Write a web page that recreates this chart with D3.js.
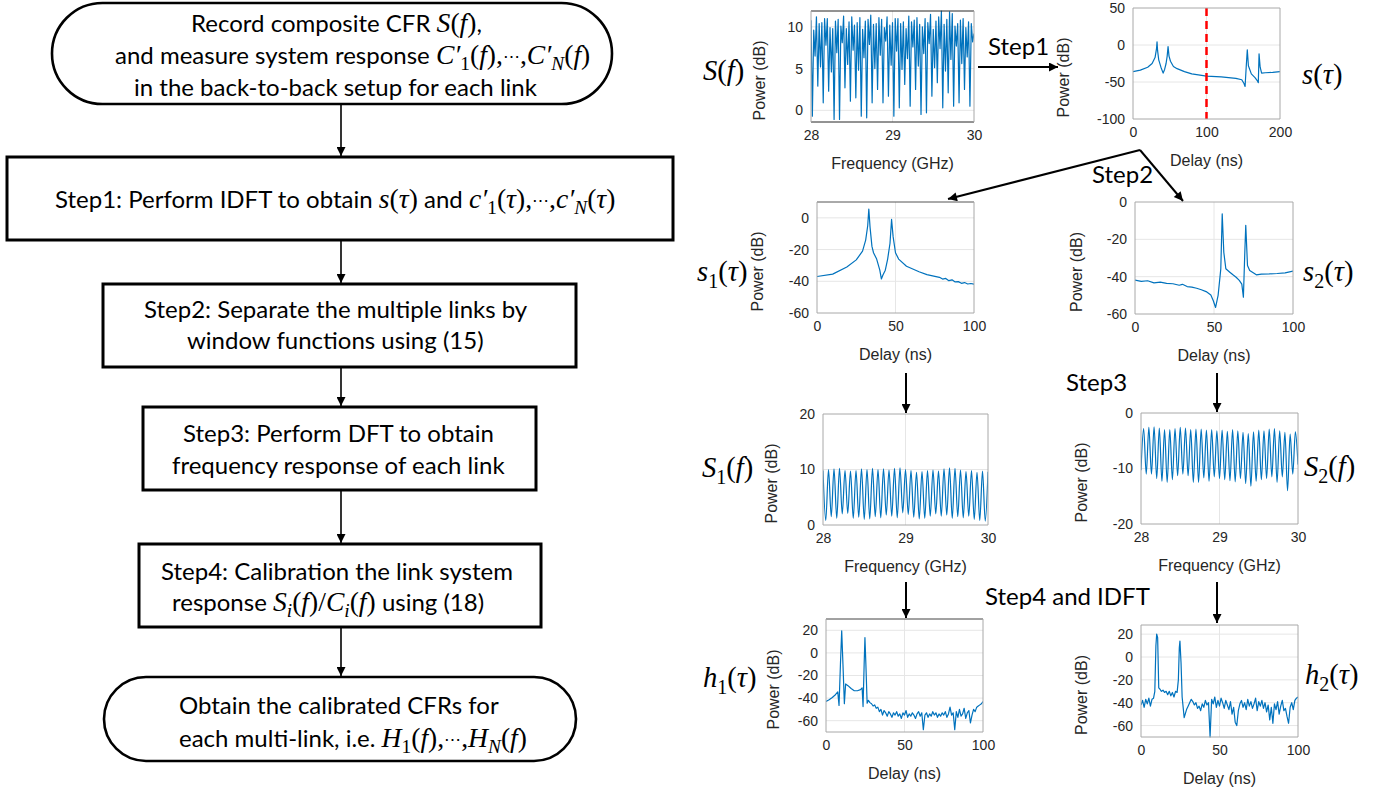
<!DOCTYPE html>
<html>
<head>
<meta charset="utf-8">
<script src="https://cdn.jsdelivr.net/npm/d3@7"></script>
<style>
  body { margin: 0; background: #fff; }
  svg { display: block; }
</style>
</head>
<body>
<div id="chart"></div>
<script>
// ---------- data ----------
// S(f): composite CFR, 30 ripple cycles 28-30 GHz, 4 samples per cycle
const sfPeakA  = [10.8,11.2,10.5,11.0,9.8,10.9,11.3,10.6,10.2,11.1,10.7,11.4,10.4,10.9,11.2,10.5,11.0,10.6,11.3,10.8,10.3,11.0,11.5,10.7,11.9,10.9,11.6,10.4,11.0,10.6];
const sfTrough = [-0.7,2.9,0.9,2.3,-1.1,-1.1,2.7,1.1,1.5,-0.7,-0.9,0.9,2.5,0.9,1.7,-0.7,0.3,3.1,0.5,2.5,-0.5,-0.3,1.7,3.3,0.3,2.1,0.5,0.9,2.5,0.5];
const sfPeakB  = [9.6,10.4,11.0,9.9,10.7,10.1,9.8,11.2,10.5,9.7,10.9,10.3,11.1,9.9,10.2,11.0,10.4,9.8,10.6,11.1,10.0,10.5,9.7,11.2,10.3,11.8,10.1,10.8,9.9,10.4];
const sfMid    = [6.5,5.2,7.8,4.6,6.9,8.1,5.5,7.2,4.8,6.3,7.9,5.0,6.6,8.3,5.4,7.1,4.9,6.2,7.6,5.3,6.8,8.0,5.1,7.4,4.7,6.1,7.7,5.6,6.4,8.2];
const sfLast   = 9.2;

// s(tau): [delay ns, power dB]
const sTau = [[0,-36],[10,-34],[20,-30],[26,-25],[30,-17],[32,-5],[32.7,4.3],[33.5,-8],[35,-20],[38,-30],[41,-38],
  [43,-33],[45,-25],[46.5,-15],[47.7,-2],[49,-15],[51,-22],[55,-29],[60,-32],[70,-36],[80,-39],[100,-42],
  [120,-43],[140,-45],[148,-47],[151,-52],[152.5,-56],[154,-30],[155.5,-6.5],[157,-28],[161,-39],[166,-44],
  [169,-48],[170.5,-51],[171.5,-12],[173,-30],[175,-38],[180,-37.5],[190,-37],[200,-36]];

// s1(tau), s2(tau)
const s1Tau = [[0,-37],[10,-35.5],[19,-31],[25,-26.5],[29,-21],[31,-14],[32.3,-5],[33,5.5],[33.8,-6],[35,-18],
  [36,-22],[38,-26],[40,-33],[41,-38.5],[42,-36],[43.5,-33],[45,-26],[46.5,-16],[47.5,-1],[48.5,-12],[50,-22],
  [52,-26],[57,-30.5],[65,-34],[70,-35.8],[78,-37.5],[80,-38.6],[82,-38.2],[84,-39.6],[86,-39.1],[88,-40.4],
  [90,-40.2],[92,-41.3],[94,-40.8],[96,-41.7],[98,-41.4],[100,-41.8]];
const s2Tau = [[0,-41.8],[4,-42.5],[8,-42.2],[12,-43.3],[16,-42.9],[20,-43.6],[24,-43.8],[28,-44.6],[30,-44.1],
  [33,-45.3],[36,-45.6],[39,-46.2],[42,-47],[45,-48],[48,-49.8],[49.5,-52.8],[51,-56.5],[52.6,-50],[54.3,-35.8],
  [55.2,-6.3],[56.2,-26.9],[57.5,-35.8],[60,-37.6],[62,-39],[64,-40.3],[66,-42],[67.6,-44],[68.6,-51],[69.5,-27],
  [70.1,-12.5],[71.2,-34],[72.6,-36.7],[76.8,-39],[80,-38.6],[85,-38.5],[90,-38.3],[95,-38],[100,-37]];

// S1(f): 30 ripple cycles, alternating peak / trough
const s1fPeak   = [9.8,10.0,10.1,10.2,9.8,9.7,9.8,10.1,10.0,10.2,10.0,10.1,9.9,10.2,10.3,10.0,9.8,9.5,9.6,9.8,9.9,9.7,10.1,10.3,10.2,9.9,9.6,9.8,9.5,9.7,9.6];
const s1fTrough = [0.8,1.5,1.2,2.0,2.1,1.2,1.4,1.0,1.1,1.5,1.3,1.8,1.6,1.3,2.2,1.9,1.4,1.1,1.2,1.6,2.0,1.6,1.8,1.2,1.5,1.3,1.6,1.0,0.8,0.7];
// S2(f): starts and ends on a trough
const s2fTrough = [-10.3,-11.0,-11.0,-11.8,-12.3,-12.5,-12.0,-11.3,-11.0,-11.3,-12.5,-12.5,-11.7,-12.3,-11.5,-11.8,-12.0,-12.2,-12.4,-11.8,-12.7,-13.2,-12.3,-12.0,-11.8,-11.5,-12.5,-11.5,-14.0,-11.0,-9.3];
const s2fPeak   = [-2.8,-2.6,-2.5,-2.7,-3.0,-3.0,-2.8,-2.6,-2.7,-3.0,-2.9,-2.9,-3.1,-3.0,-3.2,-3.1,-3.3,-3.0,-3.2,-3.5,-3.7,-3.4,-3.1,-3.2,-2.9,-2.8,-3.2,-3.5,-3.8,-3.4];

// h1(tau), h2(tau): main taps, then the noise floor sampled every 1 ns
const h1Head = [[0,-43],[2,-41.5],[4,-39.5],[6,-37],[7.5,-34.5],[8.3,-46.5],[9.2,-10],[10,19.5],[10.8,-10],[11.7,-45],
  [12.5,-27.5],[14,-29],[16,-31.5],[18,-33.5],[20,-33.5],[22,-32.5],[23,-31],[23.6,-47.5],[24.3,-10],[24.8,13.5],
  [25.4,-10],[26.2,-44.5],[27,-42]];
const h1TailStart = 28;
const h1Tail = [-44,-45,-47,-46,-49,-48,-52,-50,-55,-51,-53,-56,-52,-54,-57,-53,-55,-52,-56,-54,-58,-53,-55,-51,-57,
  -54,-56,-53,-55,-58,-54,-52,-56,-53,-68,-55,-53,-57,-54,-56,-52,-55,-53,-57,-54,-56,-53,-55,-52,-57,-54,-48,-55,
  -53,-68,-52,-57,-50,-56,-54,-49,-58,-53,-51,-62,-55,-50,-52,-48,-47,-46,-45,-43];
const h2Head = [[0,-42],[1,-38],[2,-44],[3,-37],[4,-41],[5,-36],[6,-43],[7,-37],[8,-36],[8.8,-30],[9.5,10],[10,20],
  [10.6,17],[11.3,-27],[12,-28],[13,-30],[14,-29],[15,-31],[16,-30],[17,-33],[18,-30],[19,-34],[20,-31],[21,-35],
  [22,-30],[23,-31],[23.8,-20],[24.4,8],[24.8,14],[25.5,-5],[26.2,-35],[27.5,-53],[29,-46],[30,-43],[31,-40],[32,-37]];
const h2TailStart = 33;
const h2Tail = [-39,-42,-40,-45,-43,-47,-41,-44,-38,-42,-40,-70,-37,-41,-35,-44,-38,-43,-36,-40,-45,-38,-42,-46,-39,
  -50,-44,-57,-60,-47,-41,-38,-44,-40,-46,-37,-43,-39,-45,-41,-36,-47,-39,-43,-38,-45,-40,-48,-42,-55,-44,-58,-41,
  -46,-39,-50,-43,-38,-47,-45,-52,-58,-44,-40,-46,-38,-36,-35];

const freqTicks = [28, 29, 30];

// ---------- setup ----------
const W = 1390, H = 793;
const SANS = 'Lato, "Open Sans", sans-serif';
const MATH = '"Liberation Serif", "DejaVu Serif", serif';
const AXF = '"Liberation Sans", Arial, sans-serif';
const BLUE = '#0072BD';
const AXC = '#262626';

const svg = d3.select('#chart').append('svg')
  .attr('width', W).attr('height', H)
  .attr('viewBox', `0 0 ${W} ${H}`);
const defs = svg.append('defs');
defs.append('marker').attr('id', 'arr')
  .attr('viewBox', '0 0 10 10').attr('refX', 10).attr('refY', 5)
  .attr('markerUnits', 'userSpaceOnUse').attr('markerWidth', 10).attr('markerHeight', 9)
  .attr('orient', 'auto')
  .append('path').attr('d', 'M0,0 L10,5 L0,10 z').attr('fill', '#000');
defs.append('marker').attr('id', 'arrBig')
  .attr('viewBox', '0 0 10 10').attr('refX', 10).attr('refY', 5)
  .attr('markerUnits', 'userSpaceOnUse').attr('markerWidth', 12).attr('markerHeight', 9)
  .attr('orient', 'auto')
  .append('path').attr('d', 'M0,0 L10,5 L0,10 z').attr('fill', '#000');

// text with inline math: parts = [[string, kind]]
// kinds: r = sans text, i = math italic, u = math upright, d = small cdots, sub / subi = subscript
function rich(x, y, size, parts, mathScale) {
  const ms = mathScale || 1.15;
  const t = svg.append('text').attr('x', x).attr('y', y)
    .attr('font-size', size).attr('fill', '#000');
  let shift = 0;
  parts.forEach(([s, k]) => {
    const sp = t.append('tspan').text(s);
    let fam = SANS, fs = size, it = false, target = 0;
    if (k === 'i') { fam = MATH; it = true; fs = size * ms; }
    else if (k === 'u') { fam = MATH; fs = size * ms; }
    else if (k === 'd') { fam = MATH; fs = size * 0.72; target = -size * 0.08; }
    else if (k === 'sub') { fam = MATH; fs = size * ms * 0.7; target = size * 0.25; }
    else if (k === 'subi') { fam = MATH; it = true; fs = size * ms * 0.7; target = size * 0.25; }
    sp.attr('font-family', fam).attr('font-size', fs)
      .attr('font-style', it ? 'italic' : 'normal');
    if (target !== shift) { sp.attr('dy', target - shift); shift = target; }
  });
  return t;
}

function arrow(pts, big) {
  svg.append('path')
    .attr('d', d3.line()(pts))
    .attr('fill', 'none').attr('stroke', '#000')
    .attr('stroke-width', big ? 2 : 1.6)
    .attr('marker-end', big ? 'url(#arrBig)' : 'url(#arr)');
}

// ---------- flowchart ----------
const fx = 341;
const shapes = [
  { x0: 52, x1: 612, y0: 3, y1: 104, round: true },
  { x0: 7, x1: 673, y0: 157, y1: 240 },
  { x0: 103, x1: 576, y0: 284, y1: 367 },
  { x0: 143, x1: 536, y0: 407, y1: 490 },
  { x0: 139, x1: 541, y0: 544, y1: 627 },
  { x0: 104, x1: 576, y0: 677, y1: 761, round: true }
];
shapes.forEach(s => {
  svg.append('rect')
    .attr('x', s.x0).attr('y', s.y0)
    .attr('width', s.x1 - s.x0).attr('height', s.y1 - s.y0)
    .attr('rx', s.round ? (s.y1 - s.y0) / 2 : 0)
    .attr('fill', '#fff').attr('stroke', '#000').attr('stroke-width', s.round ? 2.6 : 3);
});
for (let i = 0; i < shapes.length - 1; i++) {
  arrow([[fx, shapes[i].y1 + 1], [fx, shapes[i + 1].y0 - 1]]);
}

const FS = 24;
rich(191, 32, FS, [['Record composite CFR ', 'r'], ['S', 'i'], ['(', 'u'], ['f', 'i'], [')', 'u'], [',', 'r']]);
rich(115, 64, FS, [['and measure system response ', 'r'], ['C′', 'i'], ['1', 'sub'], ['(', 'u'], ['f', 'i'],
  ['),', 'u'], ['⋯', 'd'], [',', 'u'], ['C′', 'i'], ['N', 'subi'], ['(', 'u'], ['f', 'i'], [')', 'u']]);
rich(134, 96, FS, [['in the back-to-back setup for each link', 'r']]);

rich(55, 208, FS, [['Step1: Perform IDFT to obtain ', 'r'], ['s', 'i'], ['(', 'u'], ['τ', 'i'], [')', 'u'],
  ['  and ', 'r'], ['c′', 'i'], ['1', 'sub'], ['(', 'u'], ['τ', 'i'], ['),', 'u'], ['⋯', 'd'], [',', 'u'],
  ['c′', 'i'], ['N', 'subi'], ['(', 'u'], ['τ', 'i'], [')', 'u']]);

rich(144, 318, FS, [['Step2: Separate the multiple links by', 'r']]);
rich(187, 349, FS, [['window functions using (15)', 'r']]);

rich(183, 442, FS, [['Step3: Perform DFT to obtain', 'r']]);
rich(172, 474, FS, [['frequency response of each link', 'r']]);

rich(161, 580, FS, [['Step4: Calibration the link system', 'r']]);
rich(172, 611, FS, [['response ', 'r'], ['S', 'i'], ['i', 'subi'], ['(', 'u'], ['f', 'i'], [')/', 'u'],
  ['C', 'i'], ['i', 'subi'], ['(', 'u'], ['f', 'i'], [')', 'u'], [' using (18)', 'r']]);

rich(179, 714, FS, [['Obtain the calibrated CFRs for', 'r']]);
rich(179, 747, FS, [['each multi-link, i.e. ', 'r'], ['H', 'i'], ['1', 'sub'], ['(', 'u'], ['f', 'i'],
  ['),', 'u'], ['⋯', 'd'], [',', 'u'], ['H', 'i'], ['N', 'subi'], ['(', 'u'], ['f', 'i'], [')', 'u']]);

// ---------- small plots ----------
let clipId = 0;
function plot(cfg) {
  const { x0, x1, y0, y1 } = cfg.box;
  const x = d3.scaleLinear(cfg.xDomain, [x0, x1]);
  const y = d3.scaleLinear(cfg.yDomain, [y1, y0]);
  const g = svg.append('g');

  // grid
  g.selectAll('.gx').data(cfg.xTicks.filter(v => x(v) > x0 + 1 && x(v) < x1 - 1)).join('line')
    .attr('x1', d => x(d)).attr('x2', d => x(d)).attr('y1', y0).attr('y2', y1)
    .attr('stroke', '#e6e6e6').attr('stroke-width', 1);
  g.selectAll('.gy').data(cfg.yTicks.filter(v => y(v) > y0 + 1 && y(v) < y1 - 1)).join('line')
    .attr('y1', d => y(d)).attr('y2', d => y(d)).attr('x1', x0).attr('x2', x1)
    .attr('stroke', '#e6e6e6').attr('stroke-width', 1);

  // trace
  const id = 'clip' + (clipId++);
  defs.append('clipPath').attr('id', id).append('rect')
    .attr('x', x0).attr('y', y0 - 1).attr('width', x1 - x0).attr('height', y1 - y0 + 2);
  g.append('path')
    .datum(cfg.data)
    .attr('clip-path', `url(#${id})`)
    .attr('fill', 'none').attr('stroke', BLUE).attr('stroke-width', 1.2)
    .attr('stroke-linejoin', 'round')
    .attr('d', d3.line().x(d => x(d[0])).y(d => y(d[1])).curve(cfg.curve || d3.curveLinear));

  if (cfg.extra) cfg.extra(g, x, y);

  // box
  const edge = cfg.edge || {};
  const sides = [
    ['top', x0, y0, x1, y0], ['bottom', x0, y1, x1, y1],
    ['left', x0, y0, x0, y1], ['right', x1, y0, x1, y1]
  ];
  sides.forEach(([k, ax, ay, bx, by]) => {
    g.append('line').attr('x1', ax).attr('y1', ay).attr('x2', bx).attr('y2', by)
      .attr('stroke', edge[k] || '#a8a8a8').attr('stroke-width', 1);
  });

  // tick labels
  const fmt = d => String(d);
  const xa = g.append('g').attr('transform', `translate(0,${y1})`)
    .call(d3.axisBottom(x).tickValues(cfg.xTicks).tickSize(0).tickPadding(8).tickFormat(fmt));
  const ya = g.append('g').attr('transform', `translate(${x0},0)`)
    .call(d3.axisLeft(y).tickValues(cfg.yTicks).tickSize(0).tickPadding(8).tickFormat(fmt));
  [xa, ya].forEach(a => {
    a.select('.domain').remove();
    a.selectAll('text').attr('font-family', AXF).attr('font-size', 14).attr('fill', AXC);
  });

  // axis titles
  g.append('text').attr('x', (x0 + x1) / 2).attr('y', y1 + 47)
    .attr('text-anchor', 'middle').attr('font-family', AXF).attr('font-size', 16).attr('fill', AXC)
    .text(cfg.xLabel);
  g.append('text')
    .attr('transform', `translate(${x0 - cfg.yLabelOff},${(y0 + y1) / 2 + 14}) rotate(-90)`)
    .attr('text-anchor', 'middle').attr('font-family', AXF).attr('font-size', 16).attr('fill', AXC)
    .text('Power (dB)');
}

// build series
const sfSeries = [];
sfPeakA.forEach((v, i) => sfSeries.push(v, sfTrough[i], sfPeakB[i], sfMid[i]));
sfSeries.push(sfLast);
const sfX = d3.scaleLinear([0, sfSeries.length - 1], [28, 30]);

const s1fSeries = [];
s1fPeak.forEach((v, i) => { s1fSeries.push(v); if (i < s1fTrough.length) s1fSeries.push(s1fTrough[i]); });
const s1fX = d3.scaleLinear([0, s1fSeries.length - 1], [28, 30]);

const s2fSeries = [];
s2fTrough.forEach((v, i) => { s2fSeries.push(v); if (i < s2fPeak.length) s2fSeries.push(s2fPeak[i]); });
const s2fX = d3.scaleLinear([0, s2fSeries.length - 1], [28, 30]);

const h1Data = h1Head.concat(h1Tail.map((v, i) => [h1TailStart + i, v]));
const h2Data = h2Head.concat(h2Tail.map((v, i) => [h2TailStart + i, v]));

plot({
  box: { x0: 811, x1: 974, y0: 11, y1: 122 },
  xDomain: [28, 30], yDomain: [-1.4, 11.9],
  xTicks: freqTicks, yTicks: [0, 5, 10],
  data: sfSeries.map((v, i) => [sfX(i), v]),
  xLabel: 'Frequency (GHz)', yLabelOff: 46,
  edge: { top: '#262626', bottom: '#262626' }
});
plot({
  box: { x0: 1133, x1: 1280, y0: 8, y1: 119 },
  xDomain: [0, 200], yDomain: [-100, 50],
  xTicks: [0, 100, 200], yTicks: [-100, -50, 0, 50],
  data: sTau, xLabel: 'Delay (ns)', yLabelOff: 64,
  extra: (g, x, y) => {
    g.append('line').attr('x1', x(100)).attr('x2', x(100)).attr('y1', y(50)).attr('y2', y(-100))
      .attr('stroke', '#ff0000').attr('stroke-width', 2.5).attr('stroke-dasharray', '8,5');
  }
});
plot({
  box: { x0: 817, x1: 974, y0: 202, y1: 313 },
  xDomain: [0, 100], yDomain: [-60, 10],
  xTicks: [0, 50, 100], yTicks: [-60, -40, -20, 0],
  data: s1Tau, xLabel: 'Delay (ns)', yLabelOff: 54,
  edge: { top: '#555' }
});
plot({
  box: { x0: 1135, x1: 1293, y0: 202, y1: 314 },
  xDomain: [0, 100], yDomain: [-60, 0],
  xTicks: [0, 50, 100], yTicks: [-60, -40, -20, 0],
  data: s2Tau, xLabel: 'Delay (ns)', yLabelOff: 53
});
plot({
  box: { x0: 823, x1: 988, y0: 414, y1: 525 },
  xDomain: [28, 30], yDomain: [0, 20],
  xTicks: freqTicks, yTicks: [0, 10, 20],
  data: s1fSeries.map((v, i) => [s1fX(i), v]), curve: d3.curveMonotoneX,
  xLabel: 'Frequency (GHz)', yLabelOff: 46
});
plot({
  box: { x0: 1141, x1: 1298, y0: 413, y1: 524 },
  xDomain: [28, 30], yDomain: [-20, 0],
  xTicks: freqTicks, yTicks: [-20, -10, 0],
  data: s2fSeries.map((v, i) => [s2fX(i), v]), curve: d3.curveMonotoneX,
  xLabel: 'Frequency (GHz)', yLabelOff: 54
});
plot({
  box: { x0: 826, x1: 983, y0: 619, y1: 732 },
  xDomain: [0, 100], yDomain: [-70, 30],
  xTicks: [0, 50, 100], yTicks: [-60, -40, -20, 0, 20],
  data: h1Data, xLabel: 'Delay (ns)', yLabelOff: 47,
  edge: { top: '#444' }
});
plot({
  box: { x0: 1141, x1: 1298, y0: 625, y1: 737 },
  xDomain: [0, 100], yDomain: [-70, 28],
  xTicks: [0, 50, 100], yTicks: [-60, -40, -20, 0, 20],
  data: h2Data, xLabel: 'Delay (ns)', yLabelOff: 54
});

// ---------- plot labels ----------
const LS = 26;
rich(703, 80, LS, [['S', 'i'], ['(', 'u'], ['f', 'i'], [')', 'u']], 1.1);
rich(1302, 84, LS, [['s', 'i'], ['(', 'u'], ['τ', 'i'], [')', 'u']], 1.1);
rich(697, 281, LS, [['s', 'i'], ['1', 'sub'], ['(', 'u'], ['τ', 'i'], [')', 'u']], 1.1);
rich(1303, 281, LS, [['s', 'i'], ['2', 'sub'], ['(', 'u'], ['τ', 'i'], [')', 'u']], 1.1);
rich(702, 477, LS, [['S', 'i'], ['1', 'sub'], ['(', 'u'], ['f', 'i'], [')', 'u']], 1.1);
rich(1304, 476, LS, [['S', 'i'], ['2', 'sub'], ['(', 'u'], ['f', 'i'], [')', 'u']], 1.1);
rich(703, 687, LS, [['h', 'i'], ['1', 'sub'], ['(', 'u'], ['τ', 'i'], [')', 'u']], 1.1);
rich(1305, 684, LS, [['h', 'i'], ['2', 'sub'], ['(', 'u'], ['τ', 'i'], [')', 'u']], 1.1);

// ---------- step labels and arrows ----------
const SS = 24;
rich(988, 55, SS, [['Step1', 'r']]);
rich(1092, 183, SS, [['Step2', 'r']]);
rich(1066, 391, SS, [['Step3', 'r']]);
rich(985, 605, SS, [['Step4 and IDFT', 'r']]);

arrow([[978, 67], [1058, 67]], true);
arrow([[1140, 150], [948, 199]], true);
arrow([[1140, 150], [1183, 201]], true);
arrow([[906, 373], [906, 413]], true);
arrow([[1217, 373], [1217, 412]], true);
arrow([[906, 582], [906, 618]], true);
arrow([[1217, 582], [1217, 623]], true);
</script>
</body>
</html>
